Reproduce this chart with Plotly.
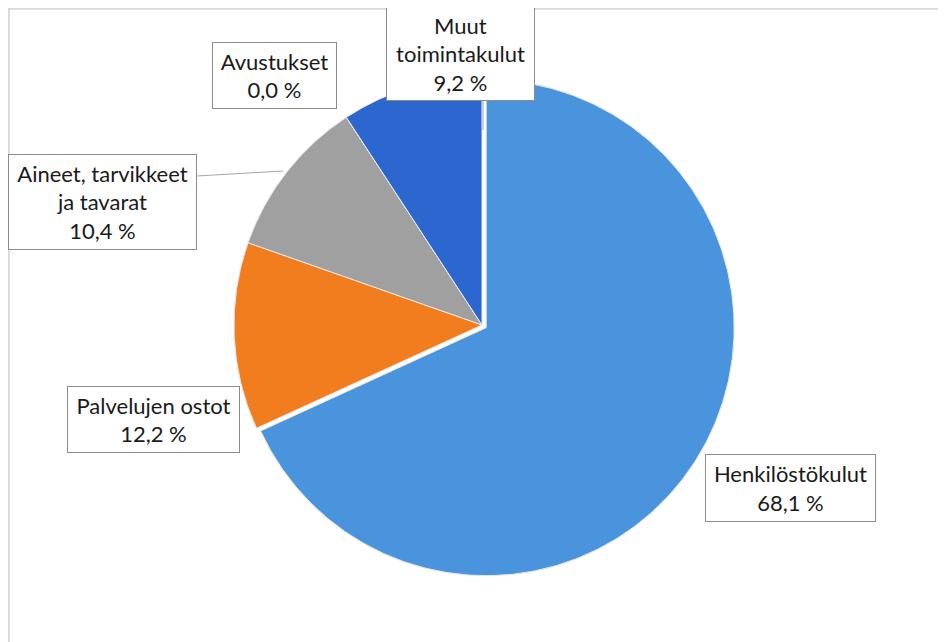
import plotly.graph_objects as go

W, H = 946, 642
OFF = 8  # page body margin offset

categories = ["Henkilöstökulut", "Palvelujen ostot", "Aineet, tarvikkeet<br>ja tavarat", "Avustukset", "Muut<br>toimintakulut"]
values = [68.1, 12.2, 10.4, 0.0, 9.2]
value_labels = ["68,1 %", "12,2 %", "10,4 %", "0,0 %", "9,2 %"]
colors = ["#4A93DD", "#F27D1F", "#A0A0A0", "#6B6B6B", "#2C66CF"]


def px(x):
    return (x - OFF) / W


def py(y):
    return 1 - (y - OFF) / H


fig = go.Figure()
fig.add_trace(go.Pie(
    labels=[c.replace("<br>", " ") for c in categories],
    values=values,
    sort=False,
    direction="clockwise",
    rotation=0,
    pull=[0.02, 0, 0, 0, 0],
    marker=dict(colors=colors, line=dict(color="#E8E8E8", width=1)),
    textinfo="none",
    hoverinfo="label+percent",
    showlegend=False,
    domain=dict(x=[px(229), px(735)], y=[py(578), py(72)]),
))

# label boxes: (left, top, right, bottom) in screen pixels
boxes = [
    (705, 454, 876, 522),
    (67, 386, 240, 453),
    (8, 154, 197, 250),
    (212, 42, 337, 109),
    (386, 7, 535, 101),
]

for cat, lab, (l, t, r, b) in zip(categories, value_labels, boxes):
    fig.add_annotation(
        x=px((l + r) / 2), y=py((t + b) / 2), xref="paper", yref="paper",
        xanchor="center", yanchor="middle",
        text=f"{cat}<br>{lab}", showarrow=False,
        width=r - l - 4, height=b - t - 4,
        bgcolor="white", bordercolor="#8C8C8C", borderwidth=1, borderpad=1,
        font=dict(family="Lato", size=22, color="#1A1A1A"),
        align="center", valign="middle",
    )

# leader lines
fig.add_shape(type="line", xref="paper", yref="paper",
              x0=px(197), y0=py(176), x1=px(283), y1=py(171),
              line=dict(color="#A6A6A6", width=1), layer="below")
fig.add_shape(type="line", xref="paper", yref="paper",
              x0=px(483), y0=py(101), x1=px(483), y1=py(130),
              line=dict(color="#A6A6A6", width=1))

# chart area border (top and left visible)
fig.add_shape(type="line", xref="paper", yref="paper",
              x0=0.0, y0=1 - 0.8 / H, x1=1.0, y1=1 - 0.8 / H,
              line=dict(color="#D9D9D9", width=2))
fig.add_shape(type="line", xref="paper", yref="paper",
              x0=0.8 / W, y0=1.0, x1=0.8 / W, y1=0.0,
              line=dict(color="#D9D9D9", width=2))

fig.update_layout(
    width=W, height=H,
    margin=dict(l=0, r=0, t=0, b=0),
    paper_bgcolor="white", plot_bgcolor="white",
)

fig.write_html("out.html")
